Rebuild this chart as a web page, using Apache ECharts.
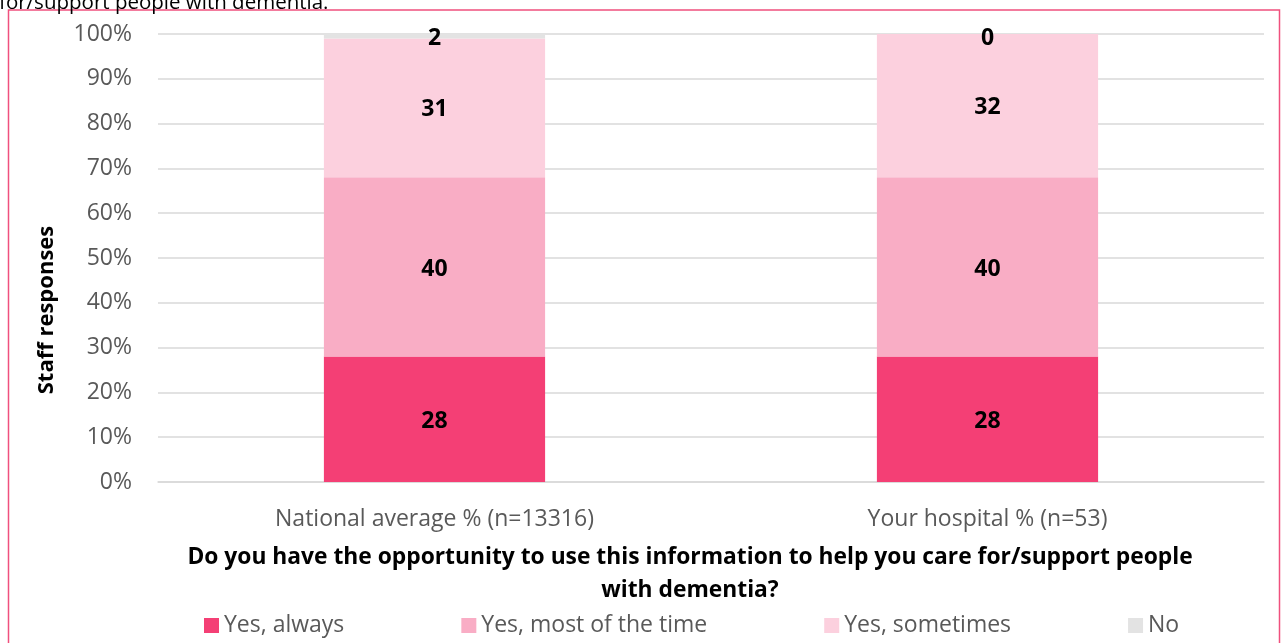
<!DOCTYPE html>
<html>
<head>
<meta charset="utf-8">
<script src="https://cdn.jsdelivr.net/npm/echarts@6/dist/echarts.min.js"></script>
<style>
html,body{margin:0;padding:0;background:#fff;}
#c{width:1282px;height:643px;}
</style>
</head>
<body>
<div id="c"></div>
<script>
const categories = ['National average % (n=13316)', 'Your hospital % (n=53)'];
const seriesNames = ['Yes, always', 'Yes, most of the time', 'Yes, sometimes', 'No'];
const yesAlways = [28, 28];
const yesMost = [40, 40];
const yesSometimes = [31, 32];
const no = [2, 0];
const yTicks = [0, 10, 20, 30, 40, 50, 60, 70, 80, 90, 100];
const colors = ['#F43F75', '#F9ADC5', '#FCD0DE', '#E3E3E3'];
const FONT = '"Open Sans", "Noto Sans", sans-serif';

const chart = echarts.init(document.getElementById('c'));
const dataSets = [yesAlways, yesMost, yesSometimes, no];
const series = dataSets.map((d, i) => ({
  name: seriesNames[i],
  type: 'bar',
  stack: 'total',
  barWidth: '40%',
  data: d,
  itemStyle: { color: colors[i] },
  label: {
    show: true,
    position: 'inside',
    offset: [0, 2],
    color: '#000',
    fontWeight: 'bold',
    fontSize: 23,
    fontFamily: FONT
  }
}));
series[3].label.position = 'insideTop';
series[3].label.offset = [0, -12];

chart.setOption({
  animation: false,
  color: colors,
  grid: { left: 158, right: 18, top: 34, bottom: 161, containLabel: false },
  xAxis: {
    type: 'category',
    data: categories,
    axisLine: { show: true, lineStyle: { color: '#D9D9D9', width: 1.5 } },
    axisTick: { show: false },
    axisLabel: { color: '#595959', fontSize: 23, fontFamily: FONT, margin: 26 }
  },
  yAxis: {
    type: 'value',
    min: 0,
    max: 100,
    interval: 10,
    axisLine: { show: false },
    axisTick: { show: false },
    splitLine: { lineStyle: { color: '#D9D9D9', width: 1.5 } },
    axisLabel: {
      color: '#595959', fontSize: 23, fontFamily: FONT, margin: 26,
      formatter: v => yTicks.includes(v) ? v + '%' : ''
    }
  },
  legend: {
    data: seriesNames,
    left: 204,
    top: 614,
    padding: 0,
    icon: 'rect',
    itemWidth: 15,
    itemHeight: 15,
    itemGap: 117,
    textStyle: { color: '#595959', fontSize: 23, fontFamily: FONT }
  },
  graphic: [
    {
      type: 'rect',
      shape: { x: 8.5, y: 10, width: 1271, height: 700 },
      style: { fill: 'none', stroke: '#F0507E', lineWidth: 1.5 }
    },
    {
      type: 'text',
      x: -1, y: 3,
      style: { text: 'for/support people with dementia.', fill: '#000', font: '20.5px ' + FONT, verticalAlign: 'middle' }
    },
    {
      type: 'text',
      x: 47, y: 310,
      rotation: Math.PI / 2,
      style: { text: 'Staff responses', fill: '#000', font: 'bold 22px ' + FONT, align: 'center', verticalAlign: 'middle' }
    },
    {
      type: 'text',
      x: 690, y: 541,
      style: {
        text: 'Do you have the opportunity to use this information to help you care for/support people\nwith dementia?',
        fill: '#000', font: 'bold 22.8px ' + FONT, align: 'center', lineHeight: 33
      }
    }
  ],
  series: series
});
</script>
</body>
</html>
